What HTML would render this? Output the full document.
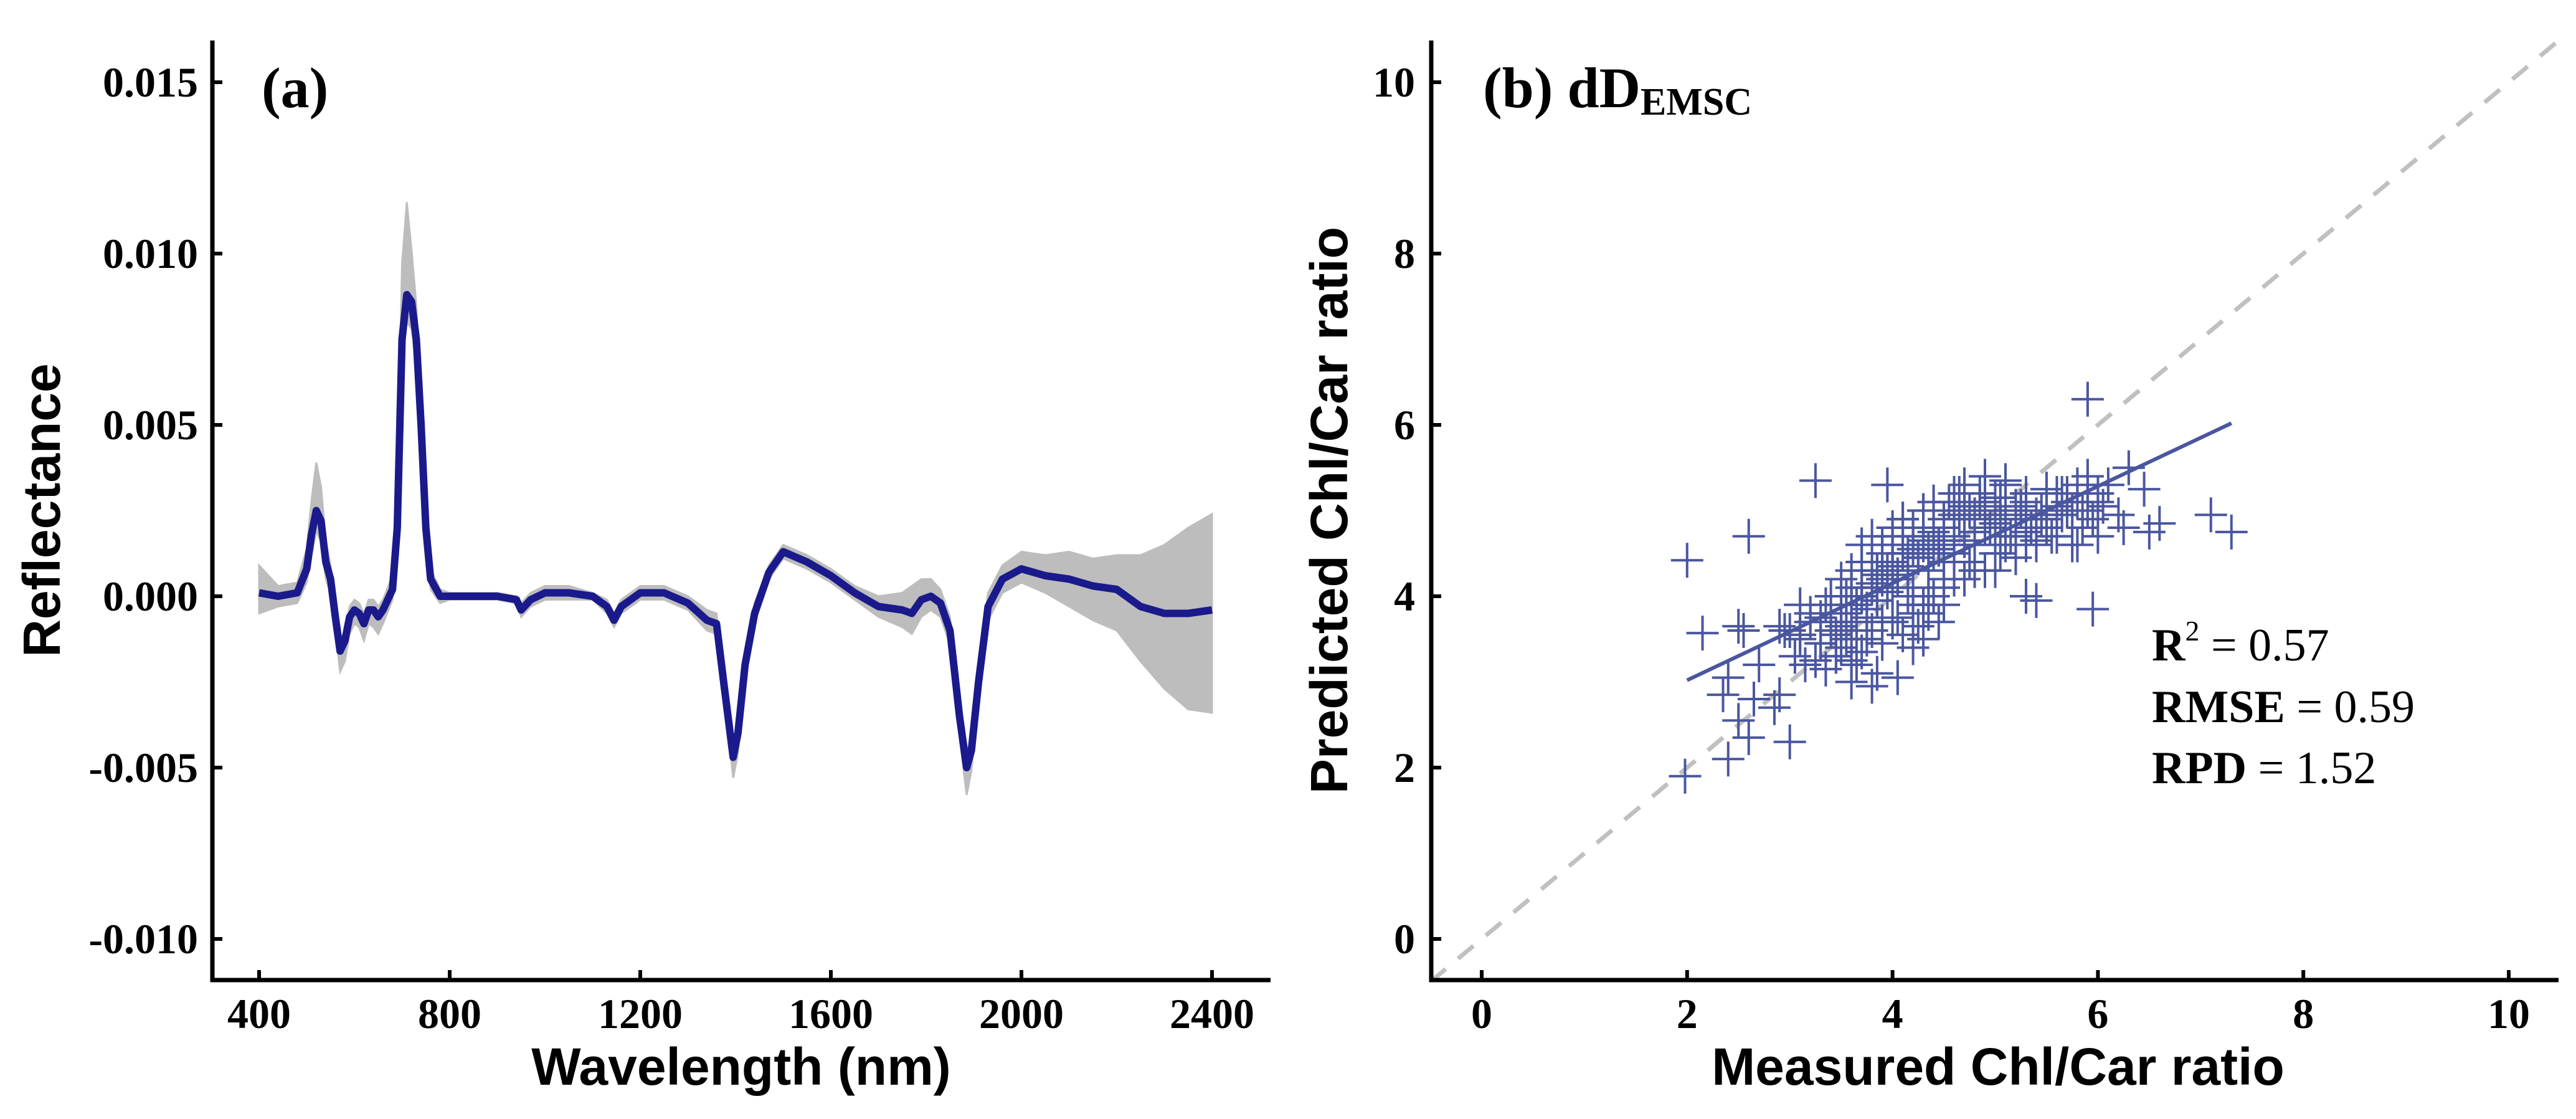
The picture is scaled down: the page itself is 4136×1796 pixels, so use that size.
<!DOCTYPE html>
<html><head><meta charset="utf-8"><style>
html,body{margin:0;padding:0;background:#fff;}
svg{display:block;}
.tick{font-family:"Liberation Serif",serif;font-weight:bold;font-size:68px;fill:#000;}
.title{font-family:"Liberation Sans",sans-serif;font-weight:bold;font-size:84px;fill:#000;}
.stat{font-family:"Liberation Serif",serif;font-size:74px;fill:#000;}
</style></head><body>
<svg id="fig" width="4136" height="1796" viewBox="0 0 4136 1796" xmlns="http://www.w3.org/2000/svg">
<g id="pa"></g>
<g id="pb"></g>
</svg>
<script>
// Panel (a) data: wavelength (nm), mean reflectance (x1e-3), band spread up/down (x1e-3)
const wl   = [400,440,480,500,510,520,530,540,550,560,570,580,590,600,610,620,630,640,650,660,680,690,700,710,720,730,740,750,760,780,800,900,940,950,970,1000,1050,1100,1130,1145,1160,1200,1250,1300,1340,1360,1375,1395,1405,1420,1440,1470,1500,1550,1600,1650,1700,1750,1770,1790,1810,1830,1850,1870,1885,1895,1910,1930,1960,2000,2050,2100,2150,2200,2250,2300,2350,2400];
const refl = [0.1,0.0,0.1,0.8,1.8,2.5,2.2,1.0,0.5,-0.6,-1.6,-1.3,-0.6,-0.4,-0.5,-0.8,-0.4,-0.4,-0.6,-0.4,0.2,2.0,7.5,8.8,8.6,7.5,5.0,2.0,0.5,0.0,0.0,0.0,-0.1,-0.4,-0.1,0.1,0.1,0.0,-0.3,-0.7,-0.3,0.1,0.1,-0.2,-0.7,-0.8,-2.5,-4.7,-4.0,-2.0,-0.5,0.7,1.3,1.0,0.6,0.1,-0.3,-0.4,-0.5,-0.1,0.0,-0.2,-1.0,-3.5,-5.0,-4.5,-2.5,-0.3,0.5,0.8,0.6,0.5,0.3,0.2,-0.3,-0.5,-0.5,-0.4];
const sprUp= [0.8,0.3,0.3,0.6,1.0,1.4,1.0,0.6,0.4,0.3,0.3,0.3,0.3,0.3,0.3,0.3,0.3,0.3,0.3,0.3,0.4,1.2,2.2,2.7,1.5,1.0,0.8,0.5,0.3,0.2,0.1,0.1,0.1,0.2,0.2,0.2,0.2,0.1,0.2,0.2,0.2,0.2,0.2,0.2,0.3,0.3,0.3,0.3,0.3,0.3,0.3,0.2,0.2,0.2,0.2,0.2,0.3,0.5,0.8,0.6,0.5,0.4,0.4,0.4,0.4,0.4,0.4,0.4,0.4,0.5,0.6,0.8,0.8,1.0,1.5,2.0,2.5,2.8];
const sprDn= [0.6,0.3,0.3,0.4,0.6,0.6,0.6,0.5,0.4,0.4,0.6,0.6,0.5,0.4,0.4,0.5,0.4,0.5,0.5,0.4,0.3,0.5,0.8,0.8,0.8,0.8,0.8,0.5,0.3,0.2,0.1,0.1,0.1,0.2,0.2,0.2,0.2,0.1,0.2,0.2,0.2,0.2,0.2,0.2,0.3,0.3,0.3,0.6,0.6,0.3,0.3,0.2,0.2,0.2,0.2,0.2,0.3,0.5,0.6,0.5,0.4,0.4,0.4,0.6,0.8,0.6,0.4,0.4,0.4,0.4,0.5,0.8,1.0,1.2,1.6,2.2,2.8,3.0];
const xTicksA = [400,800,1200,1600,2000,2400];
const yTicksA = [-0.010,-0.005,0.000,0.005,0.010,0.015];
const yTickLabelsA = ["-0.010","-0.005","0.000","0.005","0.010","0.015"];

// Panel (b) data: measured vs predicted Chl/Car ratio
const measured = [2.0,2.6,2.15,2.5,2.55,3.25,1.98,2.4,3.0,2.6,2.5,2.35,2.65,2.85,2.9,2.7,2.4,5.9,5.95,7.1,7.3,6.5,6.6,6.25,6.45,6.3,5.3,5.4,3.95,4.2,4.3,3.8,3.6,
 2.9,3.0,3.1,3.2,3.3,3.4,3.5,3.55,3.6,3.65,3.7,3.75,3.8,3.85,3.9,3.95,4.0,4.05,4.1,4.15,4.2,4.25,4.3,4.35,4.4,4.45,4.5,
 3.05,3.15,3.25,3.35,3.45,3.5,3.6,3.7,3.75,3.8,3.9,4.0,4.1,4.2,4.3,4.4,4.5,4.6,
 3.5,3.6,3.7,3.8,3.9,4.0,4.1,4.2,4.3,4.4,4.5,4.6,3.1,3.2,3.4,3.6,3.8,4.0,4.2,4.4,
 4.5,4.6,4.7,4.8,4.9,5.0,5.1,5.2,5.3,5.4,5.5,5.6,5.7,5.8,5.9,6.0,6.1,
 4.55,4.65,4.75,4.85,4.95,5.05,5.15,5.25,5.35,5.45,5.55,5.65,5.75,5.85,5.95,
 4.6,4.8,5.0,5.2,5.4,5.6,5.8,6.0,4.7,4.9,5.1,5.3,5.5,5.7,5.9,
 3.9,4.0,4.1,4.2,4.3,4.45,4.6,4.75,4.9,5.05,3.7,3.85,4.0,4.15,4.3,4.45,
 2.95,3.1,3.3,3.45,3.65,3.85,4.05,4.25,4.35,4.5,4.7,4.8,5.0,5.2,5.3,5.5,5.75,6.05,6.2,
 3.4,3.5,3.6,3.7,3.8,3.9,4.0,4.1,4.2,4.3,4.4,3.55,3.65,3.75,3.85,3.95,4.05,4.15,4.25,4.35,4.45,
 3.3,3.45,3.6,3.75,3.9,4.05,4.2,4.35,4.5,3.35,3.55,3.7,3.85,4.0,4.15,4.3,
 4.6,4.7,4.8,4.9,5.0,5.1,5.2,5.3,5.4,5.5,5.6,5.7,5.8,5.9,4.65,4.85,5.05,5.25,5.45,5.65,5.85,6.0,
 4.4,4.5,4.6,4.7,4.8,4.9,5.0,5.1,5.2,5.3,5.4,5.5];
const predicted = [4.42,4.7,3.57,3.65,3.6,5.35,1.9,2.1,2.3,2.35,2.55,2.85,2.8,2.7,2.85,3.2,3.05,6.3,3.85,4.95,4.75,4.75,4.85,4.8,5.25,5.5,4.0,3.95,5.3,3.4,3.5,2.95,3.0,
 3.65,3.6,3.55,3.7,3.75,3.6,3.65,3.8,3.7,3.9,4.0,3.85,4.1,3.95,4.2,4.3,4.4,4.25,4.5,4.35,4.6,4.45,4.7,4.3,4.8,4.55,4.4,
 3.3,3.2,3.25,3.15,3.3,3.4,3.25,3.35,3.5,3.6,3.45,3.7,3.55,3.8,3.9,4.0,4.1,4.2,
 4.2,4.3,4.6,4.7,4.5,4.8,4.9,4.7,5.0,5.1,4.9,5.2,3.9,3.8,4.0,4.1,4.3,4.6,4.1,4.0,
 4.8,5.0,5.2,4.9,5.1,5.0,5.3,4.9,5.1,4.8,5.0,5.2,5.1,5.3,5.2,5.1,5.3,
 5.1,4.9,5.0,5.2,4.8,4.9,4.7,5.0,4.8,4.9,4.7,5.2,4.6,4.8,4.9,
 4.5,4.6,4.5,4.7,4.6,4.7,4.6,4.7,5.3,5.4,5.35,5.2,5.25,5.2,5.4,
 4.6,4.7,4.9,4.8,5.0,4.55,4.65,4.4,4.3,4.5,4.4,4.3,4.1,4.0,3.9,3.7,
 3.6,3.5,3.45,3.3,3.2,3.1,3.05,3.65,3.8,3.9,4.2,4.3,4.3,4.45,4.6,4.95,5.0,5.05,4.95,
 3.7,3.8,3.9,4.0,4.15,4.25,4.35,4.5,4.55,4.65,4.75,3.5,3.6,3.75,3.95,4.05,4.2,4.3,4.45,4.55,4.6,
 3.45,3.55,3.5,3.6,3.7,3.75,3.9,4.0,4.2,3.9,4.0,4.1,4.25,4.4,4.5,4.6,
 4.95,5.05,4.95,5.05,5.15,4.95,5.05,5.0,4.95,4.9,5.05,5.0,5.1,5.0,5.2,5.1,5.15,5.05,5.0,4.95,5.0,5.2,
 4.5,4.6,4.7,4.65,4.75,4.8,4.85,4.6,4.7,4.75,4.65,4.8];
const fitLine = [2.0,3.02,7.3,6.02];
const xTicksB = [0,2,4,6,8,10];
const yTicksB = [0,2,4,6,8,10];

const NS="http://www.w3.org/2000/svg";
function mk(parent,tag,attrs,text){const e=document.createElementNS(NS,tag);for(const k in attrs)e.setAttribute(k,attrs[k]);if(text!==undefined)e.textContent=text;parent.appendChild(e);return e;}

// ---- Panel A ----
const pa=document.getElementById('pa');
const xA=nm=>416+(nm-400)*(306/400);
const yA=v=>957-v*55000;
const band=[];
for(let i=0;i<wl.length;i++)band.push(xA(wl[i])+','+yA((refl[i]+sprUp[i])/1000));
for(let i=wl.length-1;i>=0;i--)band.push(xA(wl[i])+','+yA((refl[i]-sprDn[i])/1000));
const bandEl=mk(pa,'polygon',{points:band.join(' '),fill:'#bdbdbd',stroke:'#bdbdbd','stroke-width':3});


const linePts=wl.map((w,i)=>xA(w)+','+yA(refl[i]/1000)).join(' ');
const meanEl=mk(pa,'polyline',{points:linePts,fill:'none',stroke:'#1a1a8c','stroke-width':12,'stroke-linejoin':'round'});


const axA=mk(pa,'path',{d:'M341,65 V1573 H2040',fill:'none',stroke:'#000','stroke-width':7});


xTicksA.forEach(t=>{const x=xA(t);
 const tk=mk(pa,'line',{x1:x,y1:1573,x2:x,y2:1557,stroke:'#000','stroke-width':6});
 
 
 const lb=mk(pa,'text',{x:x,y:1650,'text-anchor':'middle',class:'tick'},String(t));
 
 });
yTicksA.forEach((t,i)=>{const y=yA(t);
 const tk=mk(pa,'line',{x1:341,y1:y,x2:357,y2:y,stroke:'#000','stroke-width':6});
 
 
 const lb=mk(pa,'text',{x:318,y:y+23,'text-anchor':'end',class:'tick'},yTickLabelsA[i]);
 
 });

// ---- Panel B ----
const pb=document.getElementById('pb');
const xB=v=>2379+v*164.9;
const yB=v=>1507-v*137.5;
const clip=mk(pb,'clipPath',{id:'clipb'});
mk(clip,'rect',{x:2298,y:65,width:1810,height:1508});
const diag=mk(pb,'line',{x1:xB(-0.5),y1:yB(-0.5),x2:xB(10.5),y2:yB(10.5),stroke:'#c0c0c0','stroke-width':7,'stroke-dasharray':'32 26','clip-path':'url(#clipb)'});


for(let i=0;i<measured.length;i++){const cx=xB(measured[i]),cy=yB(predicted[i]);
 const p=mk(pb,'path',{d:`M${cx-26},${cy}H${cx+26}M${cx},${cy-28}V${cy+28}`,stroke:'#4a56a0','stroke-width':4,fill:'none'});
 
 }
const fit=mk(pb,'line',{x1:xB(fitLine[0]),y1:yB(fitLine[1]),x2:xB(fitLine[2]),y2:yB(fitLine[3]),stroke:'#4a56a0','stroke-width':6});


const axB=mk(pb,'path',{d:'M2298,65 V1573 H4108',fill:'none',stroke:'#000','stroke-width':7});


xTicksB.forEach(t=>{const x=xB(t);
 const tk=mk(pb,'line',{x1:x,y1:1573,x2:x,y2:1557,stroke:'#000','stroke-width':6});
 
 
 const lb=mk(pb,'text',{x:x,y:1650,'text-anchor':'middle',class:'tick'},String(t));
 
 });
yTicksB.forEach(t=>{const y=yB(t);
 const tk=mk(pb,'line',{x1:2298,y1:y,x2:2314,y2:y,stroke:'#000','stroke-width':6});
 
 
 const lb=mk(pb,'text',{x:2272,y:y+23,'text-anchor':'end',class:'tick'},String(t));
 
 });
</script>
<svg width="4136" height="1796" style="position:absolute;left:0;top:0" xmlns="http://www.w3.org/2000/svg">
<text x="420" y="172" style="font-family:'Liberation Serif',serif;font-weight:bold;font-size:92px">(a)</text>
<text x="1190" y="1741" text-anchor="middle" class="title">Wavelength (nm)</text>
<text transform="translate(96,819) rotate(-90)" text-anchor="middle" class="title">Reflectance</text>
<text x="2381" y="172" style="font-family:'Liberation Serif',serif;font-weight:bold;font-size:92px">(b) dD<tspan style="font-size:62px" dy="12">EMSC</tspan></text>
<text x="3208" y="1741" text-anchor="middle" class="title">Measured Chl/Car ratio</text>
<text transform="translate(2163,819) rotate(-90)" text-anchor="middle" class="title">Predicted Chl/Car ratio</text>
<text x="3455" y="1060" class="stat"><tspan font-weight="bold">R</tspan><tspan font-size="46" dy="-32">2</tspan><tspan dy="32"> = 0.57</tspan></text>
<text x="3455" y="1159" class="stat"><tspan font-weight="bold">RMSE</tspan> = 0.59</text>
<text x="3455" y="1257" class="stat"><tspan font-weight="bold">RPD</tspan> = 1.52</text>
</svg>
</body></html>
